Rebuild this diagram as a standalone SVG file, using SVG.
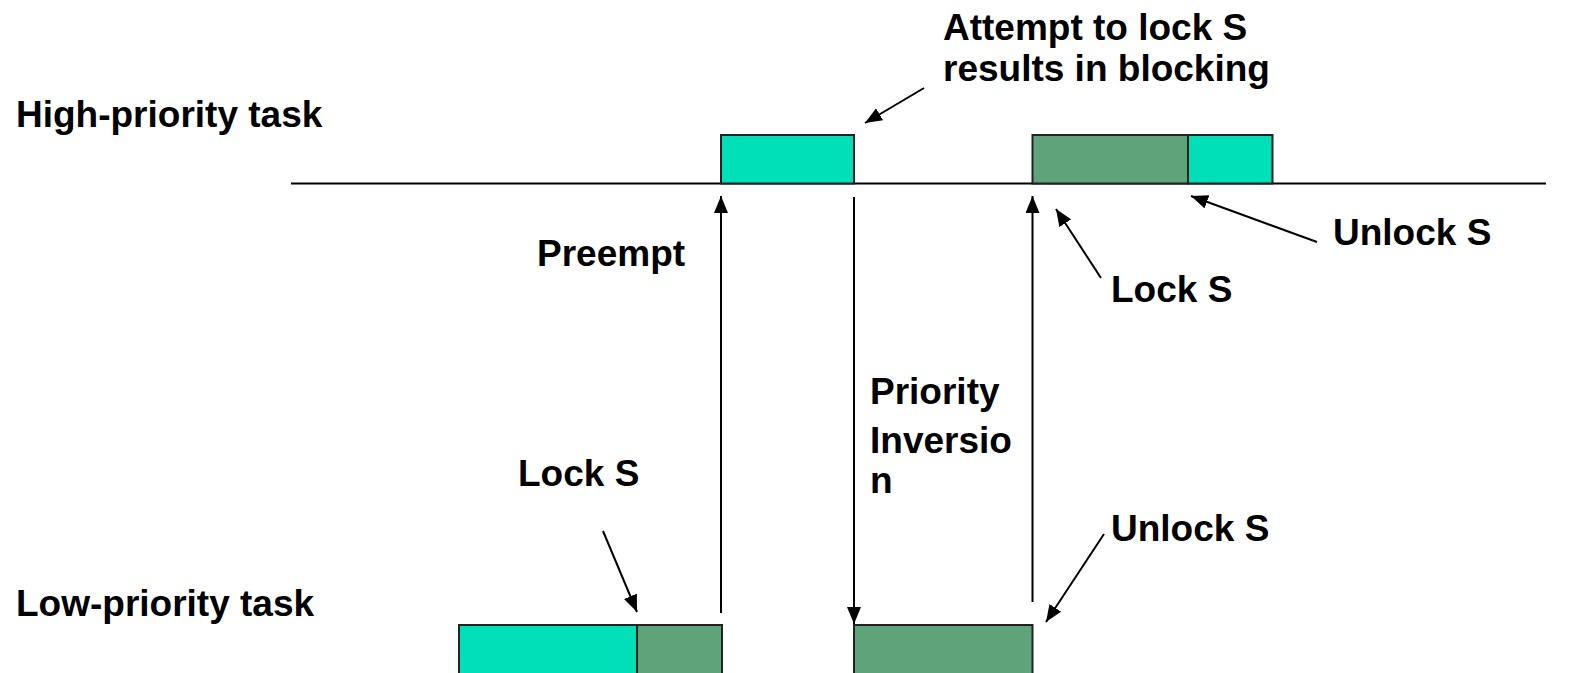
<svg xmlns="http://www.w3.org/2000/svg" width="1581" height="673" viewBox="0 0 1581 673">
  <style>
    .lbl { font-family: "Liberation Sans", Arial, sans-serif; font-weight: bold; font-size: 37px; fill: #000; }
    .run { fill: #00E0B8; stroke: #222; stroke-width: 2; }
    .crit { fill: #5FA37A; stroke: #222; stroke-width: 2; }
    .edge { stroke: #000; stroke-width: 2; fill: none; marker-end: url(#head); }
    .axis { stroke: #000; stroke-width: 2; fill: none; }
  </style>
  <defs>
    <marker id="head" viewBox="0 0 17 14" refX="17" refY="7" markerWidth="17" markerHeight="14" markerUnits="userSpaceOnUse" orient="auto">
      <path d="M0,0 L17,7 L0,14 Z" fill="#000"/>
    </marker>
  </defs>

  <!-- task labels -->
  <g id="high-task-label"><text class="lbl" x="16" y="127">High-priority task</text></g>
  <g id="low-task-label"><text class="lbl" x="16" y="616">Low-priority task</text></g>

  <!-- high-priority timeline -->
  <line class="axis" x1="291" y1="183.5" x2="1546" y2="183.5"/>
  <g id="high-run-1"><rect class="run" x="721" y="135" width="133" height="48.5"/></g>
  <g id="high-crit"><rect class="crit" x="1032.5" y="135" width="155.5" height="48.5"/></g>
  <g id="high-run-2"><rect class="run" x="1188" y="135" width="84.5" height="48.5"/></g>

  <!-- low-priority timeline -->
  <g id="low-run"><rect class="run" x="459" y="625" width="178" height="60"/></g>
  <g id="low-crit-1"><rect class="crit" x="637" y="625" width="85" height="60"/></g>
  <g id="low-crit-2"><rect class="crit" x="854" y="625" width="178.5" height="60"/></g>

  <!-- annotations -->
  <g id="attempt-label">
    <text class="lbl" x="943" y="40">Attempt to lock S</text>
    <text class="lbl" x="943" y="81">results in blocking</text>
  </g>
  <g id="preempt-label"><text class="lbl" x="537" y="266">Preempt</text></g>
  <g id="unlock-high-label"><text class="lbl" x="1333" y="245">Unlock S</text></g>
  <g id="lock-high-label"><text class="lbl" x="1111" y="302">Lock S</text></g>
  <g id="inversion-label">
    <text class="lbl" x="870" y="404">Priority</text>
    <text class="lbl" x="870" y="453">Inversio</text>
    <text class="lbl" x="870" y="493">n</text>
  </g>
  <g id="lock-low-label"><text class="lbl" x="518" y="486">Lock S</text></g>
  <g id="unlock-low-label"><text class="lbl" x="1111" y="541">Unlock S</text></g>

  <!-- connectors -->
  <g id="connectors">
    <line class="edge" x1="721" y1="613" x2="721" y2="196"/>
    <line class="edge" x1="854" y1="197" x2="854" y2="624"/>
    <line class="edge" x1="1032.5" y1="602" x2="1032.5" y2="196"/>
    <line class="edge" x1="924" y1="88" x2="865" y2="123"/>
    <line class="edge" x1="1101" y1="278" x2="1056" y2="209"/>
    <line class="edge" x1="1317" y1="242" x2="1191" y2="196"/>
    <line class="edge" x1="603" y1="531" x2="637" y2="612"/>
    <line class="edge" x1="1104" y1="534" x2="1046" y2="622"/>
  </g>
</svg>
